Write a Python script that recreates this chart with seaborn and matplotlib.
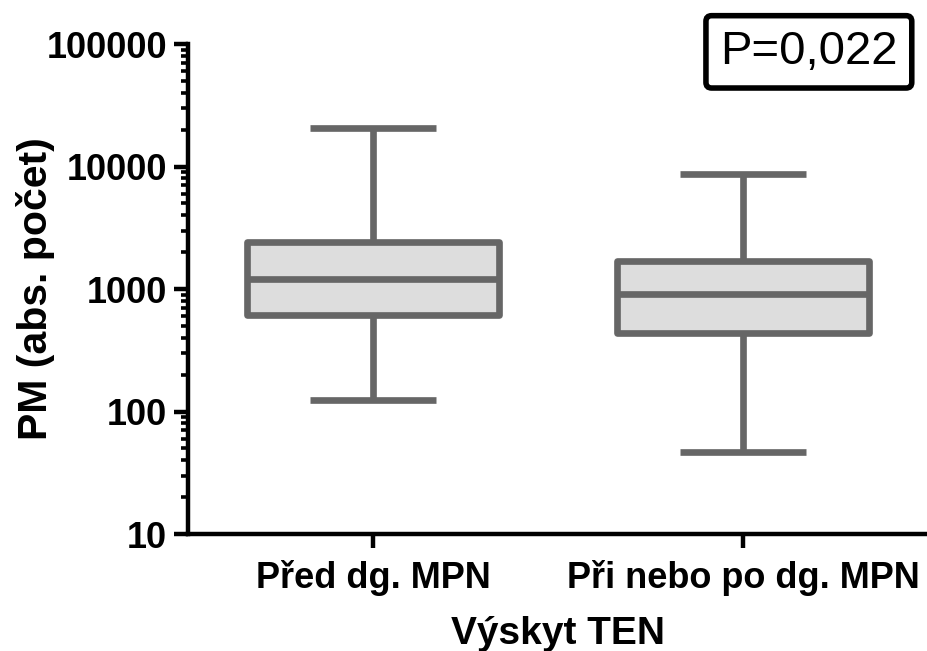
import matplotlib
matplotlib.use('Agg')
import matplotlib.pyplot as plt
import numpy as np
import pandas as pd
import seaborn as sns

# five-number summaries (min, Q1, median, Q3, max)
groups = ['Před dg. MPN', 'Při nebo po dg. MPN']
pred_dg = [124, 614, 1208, 2420, 20600]
pri_po_dg = [47, 437, 910, 1694, 8690]

y_ticks = [10, 100, 1000, 10000, 100000]
y_tick_labels = ['10', '100', '1000', '10000', '100000']
p_text = 'P=0,022'

df = pd.DataFrame({
    'group': [groups[0]] * len(pred_dg) + [groups[1]] * len(pri_po_dg),
    'value': pred_dg + pri_po_dg,
})

sns.set_style('ticks')
plt.rcParams['font.family'] = ['Liberation Sans', 'DejaVu Sans']
plt.rcParams['text.color'] = 'black'
plt.rcParams['axes.labelcolor'] = 'black'
plt.rcParams['xtick.color'] = 'black'
plt.rcParams['ytick.color'] = 'black'

fig = plt.figure(figsize=(9.28, 6.51), dpi=100)
ax = fig.add_axes([0.2026, 0.1797, 0.7974, 0.7527])

line_col = '#666666'
sns.boxplot(data=df, x='group', y='value', ax=ax, log_scale=True,
            whis=(0, 100), width=0.68, color='#dddddd', saturation=1,
            linecolor=line_col, linewidth=4.8,
            boxprops=dict(joinstyle='round'),
            capprops=dict(solid_capstyle='butt'),
            whiskerprops=dict(solid_capstyle='butt'),
            medianprops=dict(solid_capstyle='butt'))

ax.set_ylim(10, 100000)
ax.set_xlim(-0.5, 1.5)
ax.set_yticks(y_ticks)
ax.set_yticklabels(y_tick_labels)

for side in ['top', 'right']:
    ax.spines[side].set_visible(False)
for side in ['left', 'bottom']:
    ax.spines[side].set_linewidth(3.2)
    ax.spines[side].set_color('black')

ax.tick_params(axis='y', which='major', length=10, width=3.2, pad=5,
               labelsize=26, direction='out')
ax.tick_params(axis='y', which='minor', length=5, width=2.6, direction='out')
ax.tick_params(axis='x', which='major', length=10, width=3.2, pad=9,
               labelsize=26, direction='out')
for lbl in ax.get_xticklabels() + ax.get_yticklabels():
    lbl.set_fontweight('bold')

ax.set_xlabel('Výskyt TEN', fontsize=28, fontweight='bold')
ax.set_ylabel('PM (abs. počet)', fontsize=29.5, fontweight='bold')
ax.xaxis.set_label_coords(0.5, -0.168)
ax.yaxis.set_label_coords(-0.18, 0.5)

ax.text(0.839, 0.984, p_text, transform=ax.transAxes, fontsize=34,
        ha='center', va='center', clip_on=False,
        bbox=dict(boxstyle='round,pad=0.3,rounding_size=0.12',
                  facecolor='white', edgecolor='black', linewidth=4))

fig.savefig('out.png', dpi=100)
